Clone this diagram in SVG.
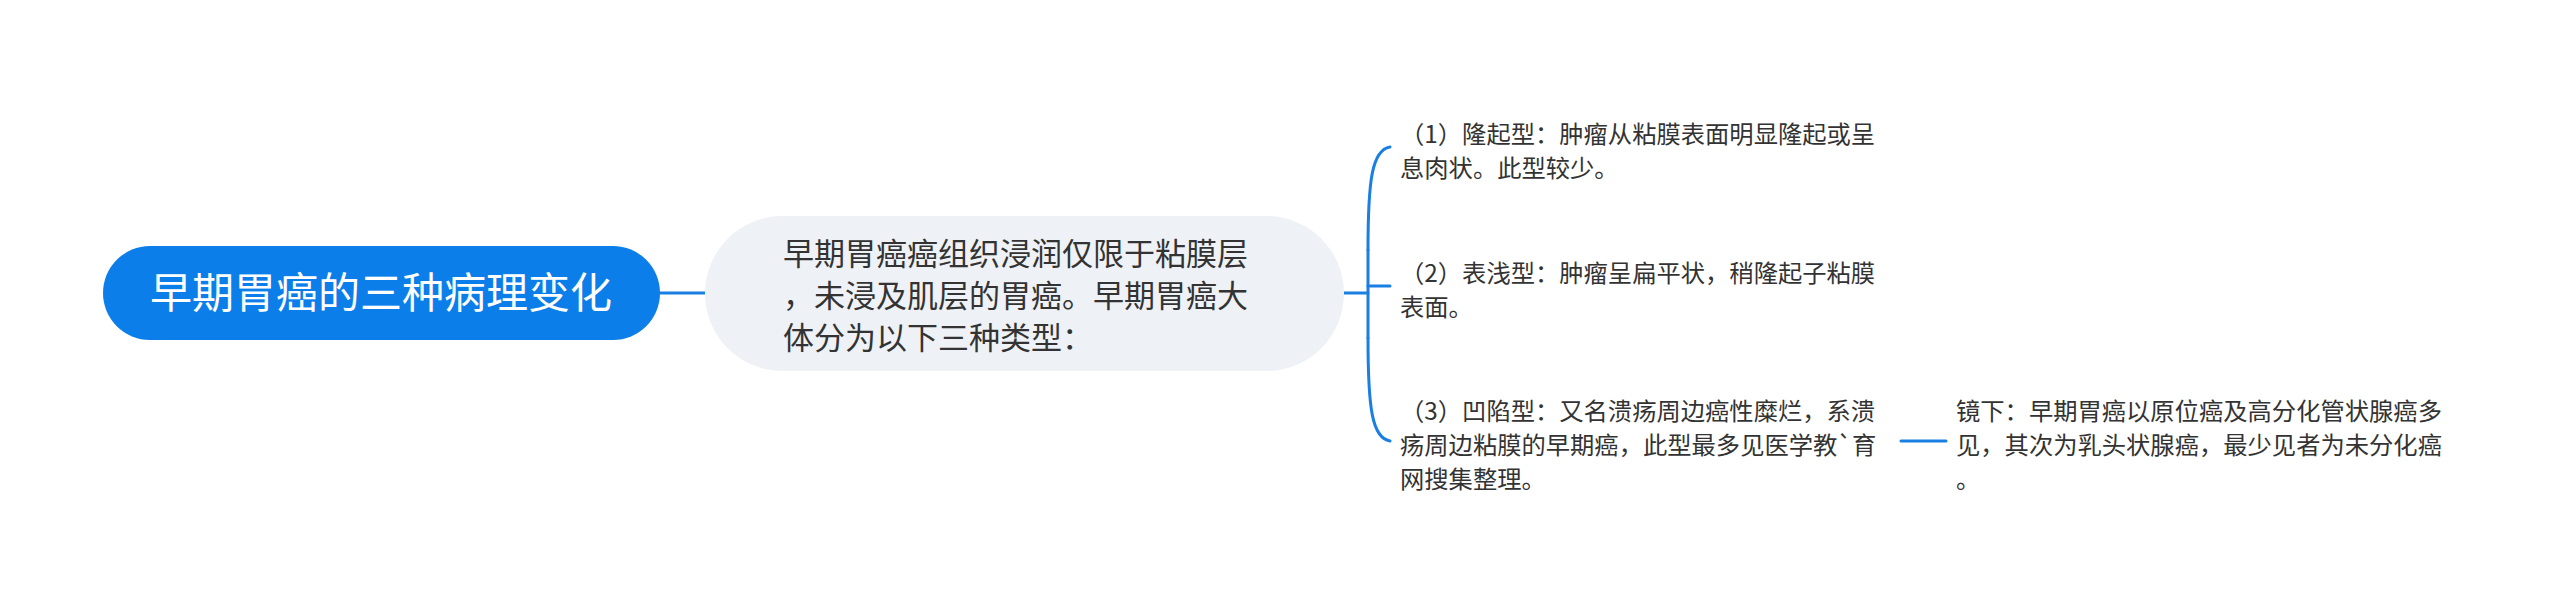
<svg xmlns="http://www.w3.org/2000/svg" width="2560" height="603" viewBox="0 0 2560 603">
  <style>
    .t { font-family: "Noto Sans CJK SC", "Noto Sans", sans-serif; fill: #333333; }
    .root-t { font-family: "Noto Sans CJK SC", "Noto Sans", sans-serif; fill: #ffffff; font-size: 42px; }
    .mid { font-size: 31px; }
    .sm { font-size: 24.3px; }
    .ln { fill: none; stroke: #1a7fe2; stroke-width: 3; stroke-linecap: round; }
  </style>
  <rect x="0" y="0" width="2560" height="603" fill="#ffffff"/>
  <g id="connectors">
    <line class="ln" x1="660" y1="293" x2="705" y2="293"/>
    <line class="ln" x1="1344" y1="293" x2="1368" y2="293"/>
    <path class="ln" d="M1368,250 C1368,180 1372,150 1390,147"/>
    <path class="ln" d="M1368,250 L1368,338"/>
    <path class="ln" d="M1368,338 C1368,408 1372,438 1390,441"/>
    <line class="ln" x1="1368" y1="286" x2="1390" y2="286"/>
    <line class="ln" x1="1901" y1="441" x2="1946" y2="441"/>
  </g>
  <g id="root">
    <rect x="103" y="246" width="557" height="94" rx="47" fill="#0b7ee9"/>
    <text class="root-t" x="381" y="308" text-anchor="middle">早期胃癌的三种病理变化</text>
  </g>
  <g id="middle">
    <rect x="705" y="216" width="639" height="155" rx="77.5" fill="#eef1f5"/>
    <text class="t mid" x="783" y="265">早期胃癌癌组织浸润仅限于粘膜层</text>
    <text class="t mid" x="783" y="307">，未浸及肌层的胃癌。早期胃癌大</text>
    <text class="t mid" x="783" y="349">体分为以下三种类型：</text>
  </g>
  <g id="item1">
    <text class="t sm" x="1400" y="143">（1）隆起型：肿瘤从粘膜表面明显隆起或呈</text>
    <text class="t sm" x="1400" y="177">息肉状。此型较少。</text>
  </g>
  <g id="item2">
    <text class="t sm" x="1400" y="282">（2）表浅型：肿瘤呈扁平状，稍隆起子粘膜</text>
    <text class="t sm" x="1400" y="316">表面。</text>
  </g>
  <g id="item3">
    <text class="t sm" x="1400" y="420">（3）凹陷型：又名溃疡周边癌性糜烂，系溃</text>
    <text class="t sm" x="1400" y="454">疡周边粘膜的早期癌，此型最多见医学教`育</text>
    <text class="t sm" x="1400" y="488">网搜集整理。</text>
  </g>
  <g id="leaf">
    <text class="t sm" x="1956" y="420">镜下：早期胃癌以原位癌及高分化管状腺癌多</text>
    <text class="t sm" x="1956" y="454">见，其次为乳头状腺癌，最少见者为未分化癌</text>
    <text class="t sm" x="1956" y="488">。</text>
  </g>
</svg>
